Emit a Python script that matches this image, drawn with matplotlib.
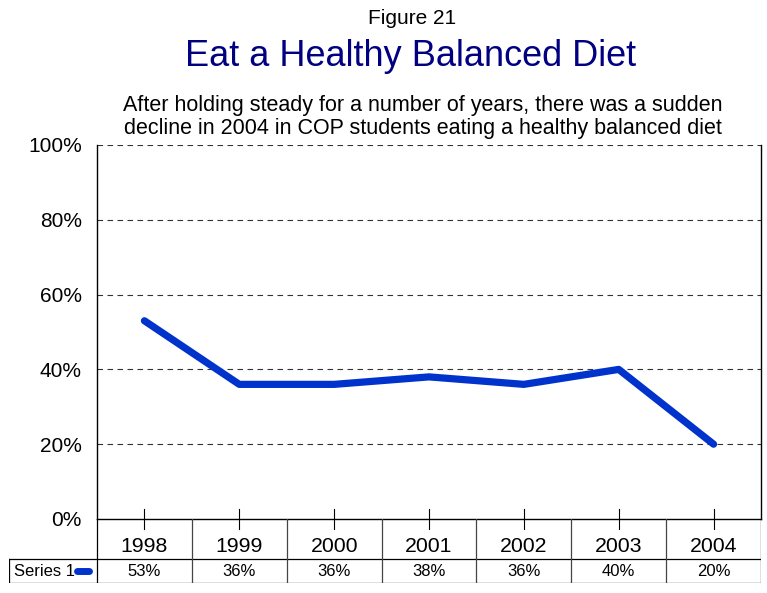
import matplotlib.pyplot as plt
import numpy as np

years = ['1998', '1999', '2000', '2001', '2002', '2003', '2004']
values = [53, 36, 36, 38, 36, 40, 20]
series_name = 'Series 1'
y_ticks = [0, 20, 40, 60, 80, 100]

W, H = 767, 593
blue = '#0033CC'
plt.rcParams['font.family'] = ['Liberation Sans', 'DejaVu Sans']

fig = plt.figure(figsize=(W / 100, H / 100), dpi=100)


def px_axes(x0, y0, x1, y1):
    # pixel box (top-left origin) -> figure axes
    return fig.add_axes([x0 / W, 1 - y1 / H, (x1 - x0) / W, (y1 - y0) / H])


# plot area
left, right, top, bottom = 97, 761, 145, 519
ax = px_axes(left, top, right, bottom)
n = len(years)
x = np.arange(n)
ax.set_xlim(-0.5, n - 0.5)
ax.set_ylim(0, 100)
ax.plot(x, values, color=blue, lw=5.2, solid_capstyle='round', zorder=3)

for v in y_ticks[1:]:
    ax.axhline(v, color='#333333', lw=0.8, ls=(0, (5, 4)), zorder=1)
ax.set_yticks(y_ticks)
ax.set_yticklabels([f'{v}%' for v in y_ticks], fontsize=15)
ax.tick_params(axis='y', length=0, pad=11)
ax.set_xticks([])
for s in ['left', 'right', 'bottom']:
    ax.spines[s].set_linewidth(1.0)
ax.spines['top'].set_visible(False)

# category ticks crossing the axis
for xi in x:
    ax.plot([xi, xi], [-2.8, 2.8], color='black', lw=0.8, clip_on=False)

# data table under the axis
unit = (right - left) / n
tl = 9
tb = px_axes(tl, bottom, right, 583)
tb.set_xlim(-0.5 - (left - tl) / unit, n - 0.5)
tb.set_ylim(0, 64)
tb.axis('off')
x0 = tb.get_xlim()[0]
row_mid = 64 - 40
lk = dict(color='black', lw=0.9)
tb.plot([-0.5, -0.5], [0, 64], **lk)
tb.plot([x0, n - 0.5], [row_mid, row_mid], **lk)
tb.plot([x0, n - 0.5], [0.4, 0.4], **lk)
tb.plot([x0, x0], [0, row_mid], **lk)
tb.plot([n - 0.5, n - 0.5], [0, 64], **lk)
for i in range(1, n):
    tb.plot([i - 0.5, i - 0.5], [0, 64], color='#444444', lw=0.9)
for i, (yr, v) in enumerate(zip(years, values)):
    tb.text(i, row_mid + 12, yr, ha='center', va='center', fontsize=15.3)
    tb.text(i, row_mid / 2, f'{v}%', ha='center', va='center', fontsize=12)
tb.text(x0 + 0.05, row_mid / 2, series_name, ha='left', va='center', fontsize=12)
tb.plot([-0.71, -0.58], [row_mid / 2, row_mid / 2], color=blue, lw=5, solid_capstyle='round')

# titles
fig.text(412 / W, 1 - 18 / H, 'Figure 21', ha='center', va='center', fontsize=15)
fig.text(411 / W, 1 - 56 / H, 'Eat a Healthy Balanced Diet', ha='center', va='center',
         fontsize=26, color='#000080')
fig.text(423 / W, 1 - 117 / H,
         'After holding steady for a number of years, there was a sudden\n'
         'decline in 2004 in COP students eating a healthy balanced diet',
         ha='center', va='center', fontsize=15.5, linespacing=1.1)

fig.savefig('out.png', dpi=100)
